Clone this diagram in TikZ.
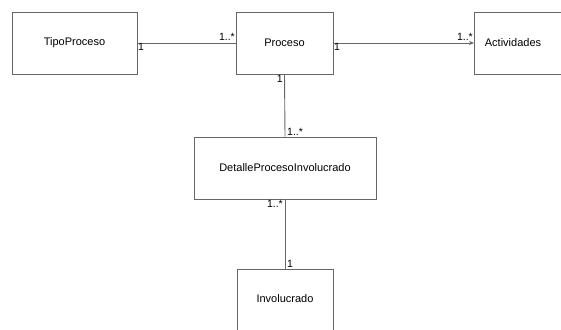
\documentclass[tikz,border=0pt]{standalone}
\usepackage{fontspec}
\setmainfont{Liberation Sans}
\usetikzlibrary{arrows.meta}
\begin{document}
\begin{tikzpicture}[x=1pt,y=-1pt,
  cls/.style={draw=black!60,line width=0.9pt,fill=white,inner sep=0pt,font=\fontsize{11}{13}\selectfont},
  conn/.style={draw=black!60,line width=0.9pt},
  mult/.style={font=\fontsize{10.5}{12}\selectfont,inner sep=1pt}]
\useasboundingbox (0,0) rectangle (561,329);
\clip (0,0) rectangle (561,329);
\node[cls,minimum width=125pt,minimum height=62pt] (tipo) at (74.5,43) {TipoProceso};
\node[cls,minimum width=97pt,minimum height=62pt] (proc) at (284.5,43) {Proceso};
\node[cls,minimum width=88pt,minimum height=62pt,anchor=west] (act) at (474,43) {};
\node[font=\fontsize{11}{13}\selectfont] (acttext) at (513,43) {Actividades};
\node[cls,minimum width=182pt,minimum height=62pt] (det) at (285,168) {DetalleProcesoInvolucrado};
\node[cls,minimum width=96pt,minimum height=70pt,anchor=north] (inv) at (285,269) {};
\node[font=\fontsize{11}{13}\selectfont] (invtext) at (285,299) {Involucrado};
\coordinate (p1) at (237,43);
\draw[conn] (tipo.east) -- (proc.west);
\draw[conn,-{Stealth[length=5pt,width=4pt]}] (proc.east) -- (act.west);
\draw[conn] (proc.south) -- (det.north);
\draw[conn] (det.south) -- (inv.north);
\node[mult,anchor=north west] (m1) at (137,42) {1};
\node[mult,anchor=south east] (m2) at (236,42) {1..*};
\node[mult,anchor=north west] (m3) at (333,42) {1};
\node[mult,anchor=south east] (m4) at (474,42) {1..*};
\node[mult,anchor=north east] (m5) at (284,74) {1};
\node[mult,anchor=south west] (m6) at (286,137) {1..*};
\node[mult,anchor=north east] (m7) at (284,199) {1..*};
\node[mult,anchor=south west] (m8) at (286,269) {1};
\end{tikzpicture}
\end{document}
